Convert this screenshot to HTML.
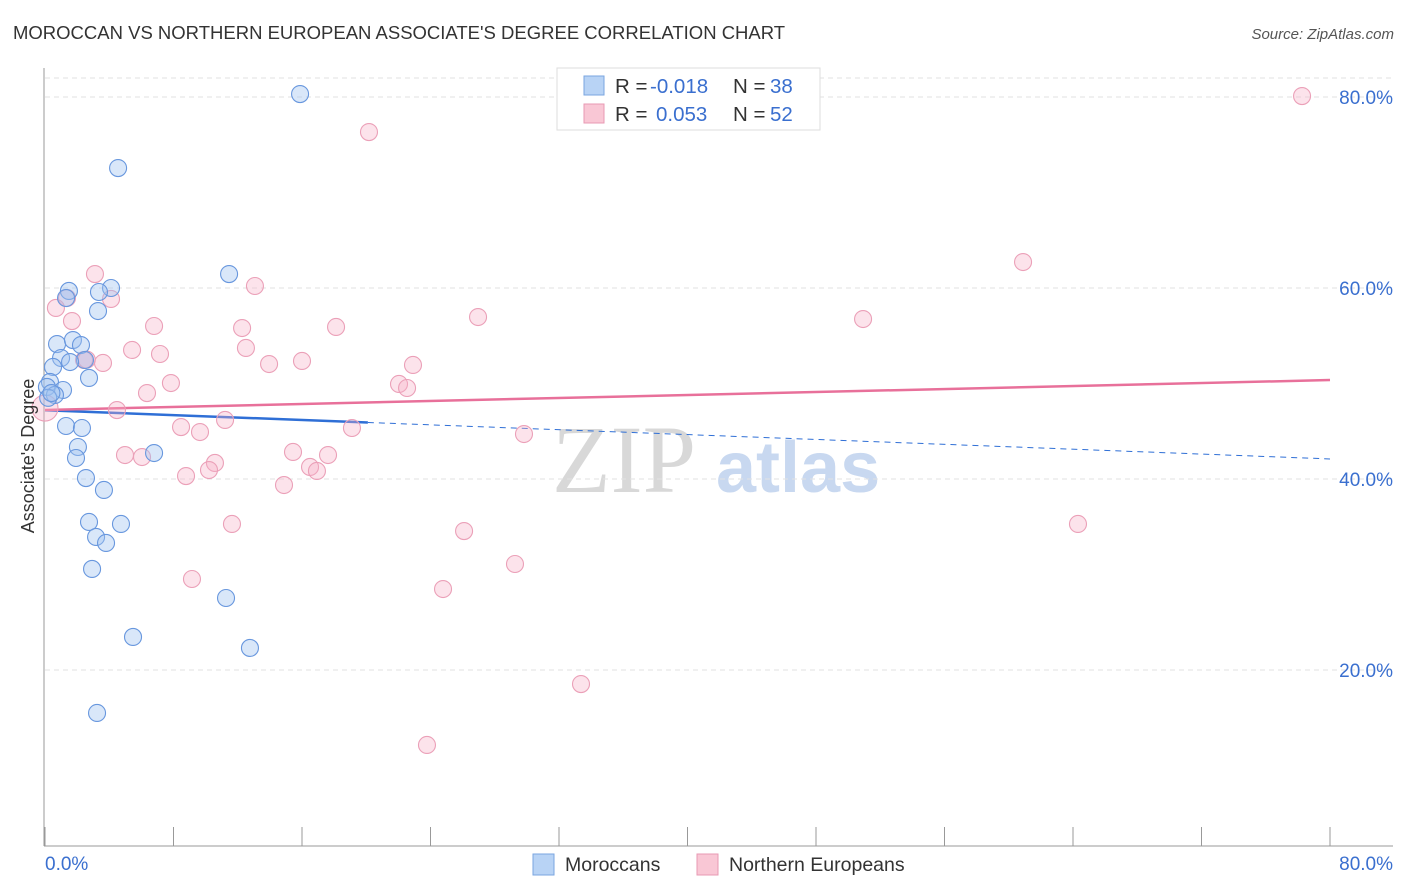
<!DOCTYPE html>
<html><head><meta charset="utf-8"><style>
body{margin:0;background:#fff;font-family:"Liberation Sans",sans-serif;}
svg{display:block}
</style></head><body>
<svg id="chart" width="1406" height="892">
<text x="13" y="39" font-size="18.5" fill="#333">MOROCCAN VS NORTHERN EUROPEAN ASSOCIATE'S DEGREE CORRELATION CHART</text>
<text x="1394" y="39" font-size="15" fill="#555" text-anchor="end" font-style="italic">Source: ZipAtlas.com</text>
<g>
<text x="552" y="492" font-size="96" fill="#d8d8d8" font-family="Liberation Serif,serif">ZIP</text>
<text x="716" y="492" font-size="72" fill="#c8d8f0" font-weight="bold">atlas</text>
</g>
<g id="grid"></g>
<g id="axes"></g>
<g id="trend"></g>
<g id="points"></g>
<g>
<rect x="557" y="68" width="263" height="62" fill="#fff" stroke="#ddd"/>
<rect x="584" y="76" width="20" height="19" fill="#b8d3f5" stroke="#7aa6e0"/>
<rect x="584" y="104" width="20" height="19" fill="#f9c7d5" stroke="#e89ab3"/>
<text x="615" y="93" font-size="20.5" fill="#333">R = <tspan x="650" fill="#3a6fcf">-0.018</tspan><tspan x="733">N = </tspan><tspan x="770" fill="#3a6fcf">38</tspan></text>
<text x="615" y="121" font-size="20.5" fill="#333">R = <tspan x="656" fill="#3a6fcf">0.053</tspan><tspan x="733">N = </tspan><tspan x="770" fill="#3a6fcf">52</tspan></text>
</g>
<g>
<rect x="533" y="854" width="21" height="21" fill="#b8d3f5" stroke="#7aa6e0"/>
<text x="565" y="871" font-size="19.5" fill="#333">Moroccans</text>
<rect x="697" y="854" width="21" height="21" fill="#f9c7d5" stroke="#e89ab3"/>
<text x="729" y="871" font-size="19.5" fill="#333">Northern Europeans</text>
</g>
<text transform="translate(34,456) rotate(-90)" font-size="18" fill="#333" text-anchor="middle">Associate's Degree</text>
</svg>
<script>
const yTicks=[20,40,60,80];
const yTickLabels=["20.0%","40.0%","60.0%","80.0%"];
const xTicks=[0,8,16,24,32,40,48,56,64,72,80];
const blueX=[15.88,4.55,11.46,1.49,4.11,3.36,1.31,3.30,0.75,1.74,2.24,1.00,2.49,1.56,0.50,2.74,0.31,0.12,1.12,0.62,1.31,2.30,2.05,6.79,1.93,2.55,3.67,2.74,4.73,3.18,3.80,2.93,11.27,5.48,12.76,3.24,0.2,0.4];
const blueY=[80.31,72.56,61.46,59.69,60.0,59.58,58.95,57.59,54.13,54.55,54.03,52.67,52.46,52.25,51.73,50.58,50.16,49.64,49.32,48.80,45.55,45.34,43.35,42.72,42.20,40.10,38.85,35.50,35.29,33.93,33.30,30.58,27.54,23.46,22.31,15.50,48.5,49.0];
const pinkX=[78.26,20.17,3.11,60.89,13.07,1.37,4.11,0.68,1.68,26.96,50.93,6.79,12.27,18.12,5.42,12.51,7.16,2.43,3.61,16.0,13.95,22.91,22.04,22.54,7.84,6.35,0,4.48,11.21,8.47,9.65,19.11,29.82,4.98,6.04,15.44,17.62,10.58,16.5,16.93,10.21,8.78,14.88,11.64,64.31,26.09,29.26,9.15,24.78,33.37,23.78,2.6];
const pinkY=[80.1,76.33,61.46,62.72,60.21,58.95,58.85,57.91,56.54,56.96,56.75,56.02,55.81,55.92,53.51,53.72,53.09,52.46,52.15,52.36,52.04,51.94,49.95,49.53,50.05,49.0,47.43,47.22,46.18,45.44,44.92,45.34,44.71,42.51,42.30,42.83,42.51,41.68,41.26,40.84,40.94,40.31,39.37,35.29,35.29,34.55,31.10,29.53,28.48,18.53,12.15,52.5];
const blueTrend=[47.2,42.1]; // y at x=0 and x=80
const blueSolidEnd=20.1;
const pinkTrend=[47.23,50.36];
const NS="http://www.w3.org/2000/svg";
const X=v=>45+v*1285/80;
const Y=v=>861-v*191/20;
function mk(tag,attrs,parent){const e=document.createElementNS(NS,tag);for(const k in attrs)e.setAttribute(k,attrs[k]);document.getElementById(parent).appendChild(e);return e;}
let g=mk('line',{x1:45,x2:1393,y1:78,y2:78,stroke:'#e2e2e2','stroke-dasharray':'5,4'},'grid');


yTicks.forEach((t,i)=>{
 const l=mk('line',{x1:45,x2:1393,y1:Y(t),y2:Y(t),stroke:'#e2e2e2','stroke-dasharray':'5,4'},'grid');
 
 
 const tx=mk('text',{x:1393,y:Y(t)+7,'font-size':19,fill:'#3a6fcf','text-anchor':'end'},'grid');
 tx.textContent=yTickLabels[i];
 
 
});
let a=mk('line',{x1:44,x2:44,y1:68,y2:846,stroke:'#999'},'axes');


a=mk('line',{x1:44,x2:1393,y1:846,y2:846,stroke:'#999'},'axes');


xTicks.forEach(t=>{const l=mk('line',{x1:X(t),x2:X(t),y1:827,y2:846,stroke:'#999'},'axes');
 
 });
let t0=mk('text',{x:45,y:870,'font-size':19,fill:'#3a6fcf'},'axes');t0.textContent=xTicks[0].toFixed(1)+'%';


let t1=mk('text',{x:1393,y:870,'font-size':19,fill:'#3a6fcf','text-anchor':'end'},'axes');t1.textContent=xTicks[xTicks.length-1].toFixed(1)+'%';


pinkX.forEach((x,i)=>{const c=mk('circle',{cx:X(x),cy:Y(pinkY[i]),r:i==26?13:8.5,fill:'rgba(246,176,198,0.35)',stroke:'#eba0b8','stroke-width':1.1},'points');
 
 });
blueX.forEach((x,i)=>{const c=mk('circle',{cx:X(x),cy:Y(blueY[i]),r:8.5,fill:'rgba(160,195,240,0.4)',stroke:'#6897de','stroke-width':1.1},'points');
 
 });
const by=x=>blueTrend[0]+(blueTrend[1]-blueTrend[0])*x/80;
let tl=mk('line',{x1:X(0),y1:Y(by(0)),x2:X(blueSolidEnd),y2:Y(by(blueSolidEnd)),stroke:'#2f6fd6','stroke-width':2.5},'trend');


tl=mk('line',{x1:X(blueSolidEnd),y1:Y(by(blueSolidEnd)),x2:X(80),y2:Y(by(80)),stroke:'#2f6fd6','stroke-width':1,'stroke-dasharray':'6,5'},'trend');


tl=mk('line',{x1:X(0),y1:Y(pinkTrend[0]),x2:X(80),y2:Y(pinkTrend[1]),stroke:'#e8709a','stroke-width':2.5},'trend');


</script>
</body></html>
